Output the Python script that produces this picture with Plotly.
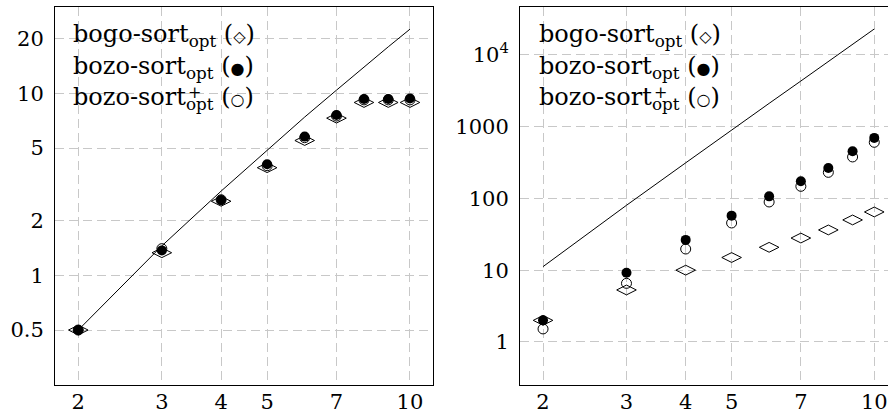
import plotly.graph_objects as go

# ---------------- data ----------------
n = [2, 3, 4, 5, 6, 7, 8, 9, 10]

# left panel
bogo_left = [0.5, 1.33, 2.55, 3.9, 5.5, 7.3, 8.9, 8.9, 8.9]
bozo_left = [0.5, 1.37, 2.59, 4.07, 5.78, 7.6, 9.3, 9.3, 9.35]
bozo_plus_left = [0.5, 1.4, 2.6, 4.0, 5.7, 7.5, 9.2, 9.2, 9.2]
line_left = [0.5, 1.45, 2.9, 4.85, 7.4, 10.4, 14.0, 18.0, 22.5]

# right panel
bogo_right = [2.0, 5.3, 10, 15, 20.8, 28, 36.3, 50, 64.6]
bozo_right = [2.0, 9.2, 26.4, 57.4, 106.6, 172.6, 265, 452, 694]
bozo_plus_right = [1.52, 6.55, 19.7, 45.4, 89, 147, 230, 377, 603]
line_right = [11.2, 80, 312, 900, 2100, 4300, 8000, 14000, 22800]

x_ticks = [2, 3, 4, 5, 7, 10]
x_ticktext = ["2", "3", "4", "5", "7", "10"]
yl_ticks = [0.5, 1, 2, 5, 10, 20]
yl_ticktext = ["0.5", "1", "2", "5", "10", "20"]
yr_ticks = [1, 10, 100, 1000, 10000]
yr_ticktext = ["1", "10", "100", "1000", "10<sup>4</sup>"]

SYM = '<span style="font-size:16px">{}</span>'
legend_lines = [
    "bogo-sort<sub>opt</sub> (" + SYM.format("◇") + ")",
    "bozo-sort<sub>opt</sub> (" + SYM.format("●") + ")",
    "bozo-sort<sub>opt</sub> (" + SYM.format("○") + ")",
]

# ---------------- figure ----------------
W, H = 888, 414
FONT = "DejaVu Serif"
fig = go.Figure()


def add_panel(xa, ya, bogo, bozo, bozo_plus, line):
    fig.add_trace(go.Scatter(x=n, y=line, mode="lines", xaxis=xa, yaxis=ya,
                             line=dict(color="black", width=1), showlegend=False))
    fig.add_trace(go.Scatter(x=n, y=bogo, mode="markers", xaxis=xa, yaxis=ya,
                             marker=dict(symbol="diamond-wide-open", size=14,
                                         color="black", line=dict(width=1)),
                             showlegend=False))
    fig.add_trace(go.Scatter(x=n, y=bozo, mode="markers", xaxis=xa, yaxis=ya,
                             marker=dict(symbol="circle", size=10, color="black"),
                             showlegend=False))
    fig.add_trace(go.Scatter(x=n, y=bozo_plus, mode="markers", xaxis=xa, yaxis=ya,
                             marker=dict(symbol="circle-open", size=10, color="black",
                                         line=dict(width=1)),
                             showlegend=False))


add_panel("x", "y", bogo_left, bozo_left, bozo_plus_left, line_left)
add_panel("x2", "y2", bogo_right, bozo_right, bozo_plus_right, line_right)

grid = dict(showgrid=True, gridcolor="#c8c8c8", gridwidth=1, griddash="9px,5px",
            zeroline=False, showline=True, linecolor="black", linewidth=1,
            ticks="", tickfont=dict(family=FONT, size=21, color="black"),
            automargin=False)

ydom = [(H - 385) / H, (H - 7) / H]

fig.update_layout(
    width=W, height=H,
    margin=dict(l=0, r=0, t=0, b=0),
    paper_bgcolor="white", plot_bgcolor="white",
    xaxis=dict(type="log", domain=[55 / W, 433 / W], range=[0.252, 1.0485],
               tickvals=x_ticks, ticktext=x_ticktext, mirror=True, anchor="y",
               ticklabelstandoff=-2, **grid),
    yaxis=dict(type="log", domain=ydom, range=[-0.603, 1.474],
               tickvals=yl_ticks, ticktext=yl_ticktext, mirror=True, anchor="x",
               ticklabelstandoff=6, **grid),
    xaxis2=dict(type="log", domain=[520 / W, 1.0], range=[0.2524, 1.029],
                tickvals=x_ticks, ticktext=x_ticktext, mirror=True, anchor="y2",
                ticklabelstandoff=-2, **grid),
    yaxis2=dict(type="log", domain=ydom, range=[-0.599, 4.664],
                tickvals=yr_ticks, ticktext=yr_ticktext, mirror=False, anchor="x2",
                ticklabelstandoff=6, **grid),
)

ann_font = dict(family=FONT, size=24, color="black")
line_y = [35, 67, 99]
for left_px in (71, 537):
    for txt, py in zip(legend_lines, line_y):
        fig.add_annotation(text=txt, xref="paper", yref="paper",
                           x=left_px / W, y=1 - py / H, xanchor="left", yanchor="middle",
                           showarrow=False, font=ann_font)
    fig.add_annotation(text="+", xref="paper", yref="paper",
                       x=(left_px + 115) / W, y=1 - 92 / H, xanchor="left", yanchor="middle",
                       showarrow=False, font=dict(family=FONT, size=16, color="black"))

fig.write_html("out.html", config={"displayModeBar": False},
               post_script="document.body.style.margin='0';")
